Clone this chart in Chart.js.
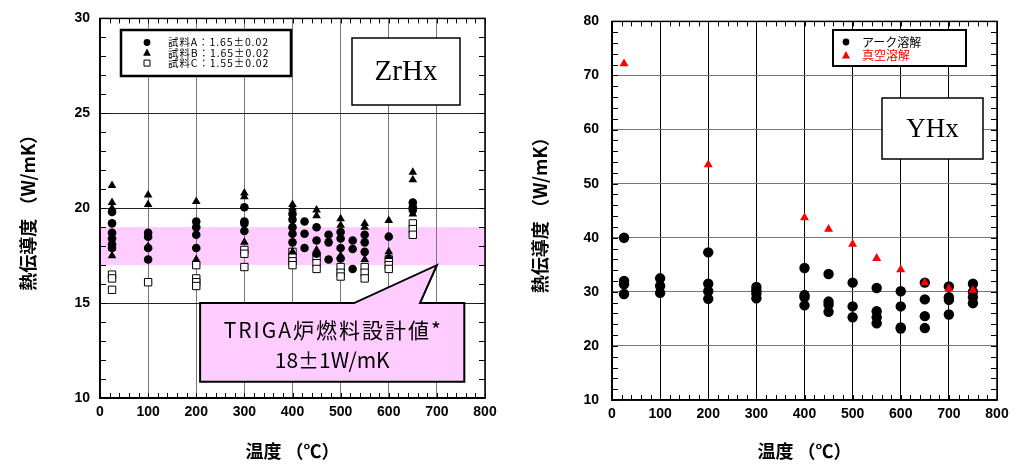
<!DOCTYPE html>
<html><head><meta charset="utf-8">
<script src="https://cdn.jsdelivr.net/npm/chart.js@4/dist/chart.umd.min.js"></script>
<style>
html,body{margin:0;padding:0;background:#fff;width:1021px;height:465px;overflow:hidden}
#l{position:absolute;left:0;top:0}
#r{position:absolute;left:515px;top:0}
</style></head><body>
<canvas id="l" width="515" height="465"></canvas>
<canvas id="r" width="506" height="465"></canvas>
<script>
// ---------- DATA: ZrHx (left) ----------
const zrTemps = [25,100,200,300,400,425,450,475,500,525,550,600,650];
const zrA = [ // 試料A (circles)
 [19.8,19.2,18.7,18.4,18.1,17.9],
 [18.7,18.5,17.9,17.3],
 [19.3,19.0,18.6,17.9],
 [20.05,19.3,19.2,18.8],
 [19.7,19.4,19.0,18.65,18.2],
 [19.3,18.65,17.9],
 [19.0,18.3,17.6],
 [18.6,18.2,17.3],
 [18.75,18.4,17.9,17.35],
 [18.3,17.85,16.8],
 [18.6,18.2,17.7],
 [18.5],
 [20.3,20.05,19.9]
];
const zrB = [ // 試料B (triangles)
 [21.2,20.3,20.0,17.9,17.5],
 [20.7,20.2,18.0],
 [20.35,17.3],
 [20.8,20.6,18.2],
 [20.2,20.0,17.7],
 [],
 [19.9,19.6,17.8],
 [],
 [19.45,19.1,17.5],
 [],
 [19.2,19.0,17.3],
 [19.35,17.7,17.45],
 [21.9,21.5,19.7]
];
const zrC = [ // 試料C (open squares)
 [16.5,16.3,15.7],
 [16.1],
 [17.0,16.3,16.1,15.9],
 [17.8,17.6,16.9],
 [17.7,17.4,17.2,17.0],
 [],
 [17.4,17.1,16.8],
 [],
 [16.9,16.6,16.4],
 [],
 [16.9,16.6,16.3],
 [17.3,17.0,16.8],
 [19.2,18.9,18.6]
];
const zrLegend = ['試料A：1.65±0.02','試料B：1.65±0.02','試料C：1.55±0.02'];
const designLo = 17, designHi = 19;        // TRIGA design band
const designPoint = [700, 17];             // callout pointer tip
const calloutText = ['TRIGA炉燃料設計値*','18±1W/mK'];

// ---------- DATA: YHx (right) ----------
const yhTemps = [25,100,200,300,400,450,500,550,600,650,700,750];
const yhArc = [ // アーク溶解 (circles)
 [40.0,32.0,31.4,29.6],
 [32.5,31.1,29.8],
 [37.3,31.5,30.1,28.7],
 [30.9,30.3,29.7,28.8],
 [34.4,29.4,29.0,27.5],
 [33.3,28.2,27.6,26.3],
 [31.7,27.3,25.3],
 [30.7,26.4,25.3,24.2],
 [30.1,27.3,23.4,23.2],
 [31.7,28.6,25.5,23.3],
 [31.0,29.0,28.5,25.8],
 [31.5,30.0,29.0,27.9]
];
const yhVac = [72.2,null,53.5,null,43.7,41.6,38.8,36.2,34.1,31.7,30.6,30.3]; // 真空溶解 (red triangles)
const yhLegend = ['アーク溶解','真空溶解'];

const xTitle = '温度 （℃）';
const yTitle = '熱伝導度 （W/mK）';

// ---------- helpers ----------
function pts(temps, groups){
  const out=[];
  temps.forEach((t,i)=>{ const g=groups[i]; if(g==null) return;
    (Array.isArray(g)?g:[g]).forEach(v=>{ if(v!=null) out.push({x:t,y:v}); }); });
  return out;
}
const FONT = '"Liberation Sans","Noto Sans CJK JP",Arial,sans-serif';
const CJK = '"Noto Sans CJK JP","Liberation Sans",sans-serif';
Chart.defaults.font.family = FONT;
Chart.defaults.color = '#000';

function frameTicks(xMinor, yMinor){
  return {id:'frameTicks', afterDatasetsDraw(chart){
    const {ctx, chartArea:a, scales:{x,y}} = chart;
    ctx.save(); ctx.strokeStyle='#000'; ctx.lineWidth=1; ctx.beginPath();
    for(let v=x.min; v<=x.max+1e-9; v+=xMinor){
      const px=Math.round(x.getPixelForValue(v))+0.5;
      ctx.moveTo(px,a.bottom); ctx.lineTo(px,a.bottom-5);
      ctx.moveTo(px,a.top); ctx.lineTo(px,a.top+5);
    }
    for(let v=y.min; v<=y.max+1e-9; v+=yMinor){
      const py=Math.round(y.getPixelForValue(v))+0.5;
      ctx.moveTo(a.left,py); ctx.lineTo(a.left+6,py);
      ctx.moveTo(a.right,py); ctx.lineTo(a.right-6,py);
    }
    ctx.stroke();
    ctx.lineWidth=1.5;
    ctx.strokeRect(a.left,a.top,a.right-a.left,a.bottom-a.top);
    ctx.restore();
  }};
}
function textBox(ctx, l, t, w, h, txt, size){
  ctx.save();
  ctx.fillStyle='#fff'; ctx.fillRect(l,t,w,h);
  ctx.strokeStyle='#000'; ctx.lineWidth=1.5; ctx.strokeRect(l,t,w,h);
  ctx.fillStyle='#000'; ctx.font = size+'px "Liberation Serif","DejaVu Serif",serif';
  ctx.textAlign='center'; ctx.textBaseline='middle';
  ctx.fillText(txt, l+w/2, t+h/2+1);
  ctx.restore();
}
function marker(ctx, type, x, y, color){
  ctx.save(); ctx.fillStyle=color; ctx.strokeStyle='#000'; ctx.lineWidth=1;
  ctx.beginPath();
  if(type==='circle'){ ctx.arc(x,y,3.4,0,Math.PI*2); ctx.fill(); }
  else if(type==='triangle'){ ctx.moveTo(x,y-4.2); ctx.lineTo(x+3.8,y+3); ctx.lineTo(x-3.8,y+3); ctx.closePath(); ctx.fill(); }
  else { ctx.fillStyle='#fff'; ctx.rect(x-3,y-3,6,6); ctx.fill(); ctx.stroke(); }
  ctx.restore();
}

// ---------- LEFT: ZrHx ----------
const leftPlugin = {
  id:'zrDecor',
  beforeDraw(chart){
    const {ctx, chartArea:a, scales:{y}} = chart;
    const t=y.getPixelForValue(designHi), b=y.getPixelForValue(designLo);
    ctx.save(); ctx.fillStyle='#FFCCFF'; ctx.fillRect(a.left,t,a.right-a.left,b-t); ctx.restore();
  },
  afterDraw(chart){
    const {ctx, scales:{x,y}} = chart;
    // callout
    const L=x.getPixelForValue(208), R=x.getPixelForValue(757);
    const T=y.getPixelForValue(15), B=y.getPixelForValue(10.85);
    const b1=x.getPixelForValue(528), b2=x.getPixelForValue(665);
    const tx=x.getPixelForValue(designPoint[0]), ty=y.getPixelForValue(designPoint[1]);
    ctx.save();
    ctx.beginPath();
    ctx.moveTo(L,T); ctx.lineTo(b1,T); ctx.lineTo(tx,ty); ctx.lineTo(b2,T);
    ctx.lineTo(R,T); ctx.lineTo(R,B); ctx.lineTo(L,B); ctx.closePath();
    ctx.fillStyle='#FFCCFF'; ctx.fill();
    ctx.strokeStyle='#000'; ctx.lineWidth=2; ctx.stroke();
    ctx.fillStyle='#000'; ctx.textAlign='center'; ctx.textBaseline='middle';
    ctx.font='21px '+CJK;
    ctx.letterSpacing='2px';
    ctx.fillText(calloutText[0], (L+R)/2+1, T+27);
    ctx.letterSpacing='0px';
    ctx.fillText(calloutText[1], (L+R)/2, T+57);
    ctx.restore();
    // legend
    ctx.save();
    ctx.fillStyle='#fff'; ctx.fillRect(121,30,170,46);
    ctx.strokeStyle='#000'; ctx.lineWidth=2.5; ctx.strokeRect(121,30,170,46);
    const types=['circle','triangle','rect'];
    ctx.font='10.5px '+CJK; ctx.textBaseline='middle'; ctx.textAlign='left';
    ctx.letterSpacing='0.9px';
    for(let i=0;i<3;i++){
      const yy=42.5+i*10.3;
      marker(ctx, types[i], 147, yy, '#000');
      ctx.fillStyle='#000'; ctx.fillText(zrLegend[i], 168, yy);
    }
    ctx.restore();
    textBox(ctx, 352, 38, 108, 67, 'ZrHx', 29);
  }
};

const axisTitleFont = {size:18, weight:'bold', family:CJK};

new Chart(document.getElementById('l'), {
  type:'scatter',
  data:{datasets:[
    {label:zrLegend[0], data:pts(zrTemps,zrA), pointStyle:'circle', radius:4.3, backgroundColor:'#000', borderColor:'#000', borderWidth:0},
    {label:zrLegend[1], data:pts(zrTemps,zrB), pointStyle:'triangle', radius:5, backgroundColor:'#000', borderColor:'#000', borderWidth:0},
    {label:zrLegend[2], data:pts(zrTemps,zrC), pointStyle:'rect', radius:5.2, backgroundColor:'#fff', borderColor:'#000', borderWidth:1}
  ]},
  options:{
    responsive:false, animation:false,
    layout:{padding:{left:0,right:30,top:14,bottom:0}},
    plugins:{legend:{display:false}, tooltip:{enabled:false}},
    scales:{
      x:{type:'linear', min:0, max:800,
        ticks:{stepSize:100, font:{size:14, weight:'bold'}, padding:6, color:'#000'},
        grid:{color:'#777', drawTicks:false}, border:{color:'#000', width:1.5},
        title:{display:true, text:xTitle, font:axisTitleFont, padding:{top:0,bottom:3}, color:'#000'},
        afterFit:s=>{s.height=67;}},
      y:{min:10, max:30,
        ticks:{stepSize:5, font:{size:14, weight:'bold'}, padding:10, color:'#000'},
        grid:{color:'#222', drawTicks:false}, border:{color:'#000', width:1.5},
        title:{display:true, text:yTitle, font:axisTitleFont, padding:{top:17,bottom:0}, color:'#000'},
        afterFit:s=>{s.width=100;}}
    }
  },
  plugins:[leftPlugin, frameTicks(20,1)]
});

// ---------- RIGHT: YHx ----------
const rightPlugin = {
  id:'yhDecor',
  afterDraw(chart){
    const {ctx} = chart;
    ctx.save();
    ctx.fillStyle='#fff'; ctx.fillRect(318,30,133,36);
    ctx.strokeStyle='#000'; ctx.lineWidth=2; ctx.strokeRect(318,30,133,36);
    ctx.font='12px '+CJK; ctx.textBaseline='middle'; ctx.textAlign='left';
    marker(ctx,'circle',331,42,'#000');
    ctx.fillStyle='#000'; ctx.fillText(yhLegend[0], 347, 42);
    ctx.beginPath(); ctx.fillStyle='#FF0000';
    ctx.moveTo(331,51); ctx.lineTo(335,58.5); ctx.lineTo(327,58.5); ctx.closePath(); ctx.fill();
    ctx.fillStyle='#FF0000'; ctx.fillText(yhLegend[1], 347, 55);
    ctx.restore();
    textBox(ctx, 367, 98, 101, 61, 'YHx', 27);
  }
};

new Chart(document.getElementById('r'), {
  type:'scatter',
  data:{datasets:[
    {label:yhLegend[1], data:pts(yhTemps,yhVac), pointStyle:'triangle', radius:5.2, backgroundColor:'#FF0000', borderColor:'#FF0000', borderWidth:0},
    {label:yhLegend[0], data:pts(yhTemps,yhArc), pointStyle:'circle', radius:5.2, backgroundColor:'#000', borderColor:'#000', borderWidth:0}
  ]},
  options:{
    responsive:false, animation:false,
    layout:{padding:{left:0,right:24,top:14,bottom:0}},
    plugins:{legend:{display:false}, tooltip:{enabled:false}},
    scales:{
      x:{type:'linear', min:0, max:800,
        ticks:{stepSize:100, font:{size:14, weight:'bold'}, padding:6, color:'#000'},
        grid:{color:'#000', drawTicks:false}, border:{color:'#000', width:1.5},
        title:{display:true, text:xTitle, font:axisTitleFont, padding:{top:0,bottom:3}, color:'#000'},
        afterFit:s=>{s.height=65;}},
      y:{min:10, max:80,
        ticks:{stepSize:10, font:{size:14, weight:'bold'}, padding:13, color:'#000'},
        grid:{color:'#777', drawTicks:false}, border:{color:'#000', width:1.5},
        title:{display:true, text:yTitle, font:axisTitleFont, padding:{top:14,bottom:0}, color:'#000'},
        afterFit:s=>{s.width=97;}}
    }
  },
  plugins:[rightPlugin, frameTicks(20,2)]
});
</script>
</body></html>
